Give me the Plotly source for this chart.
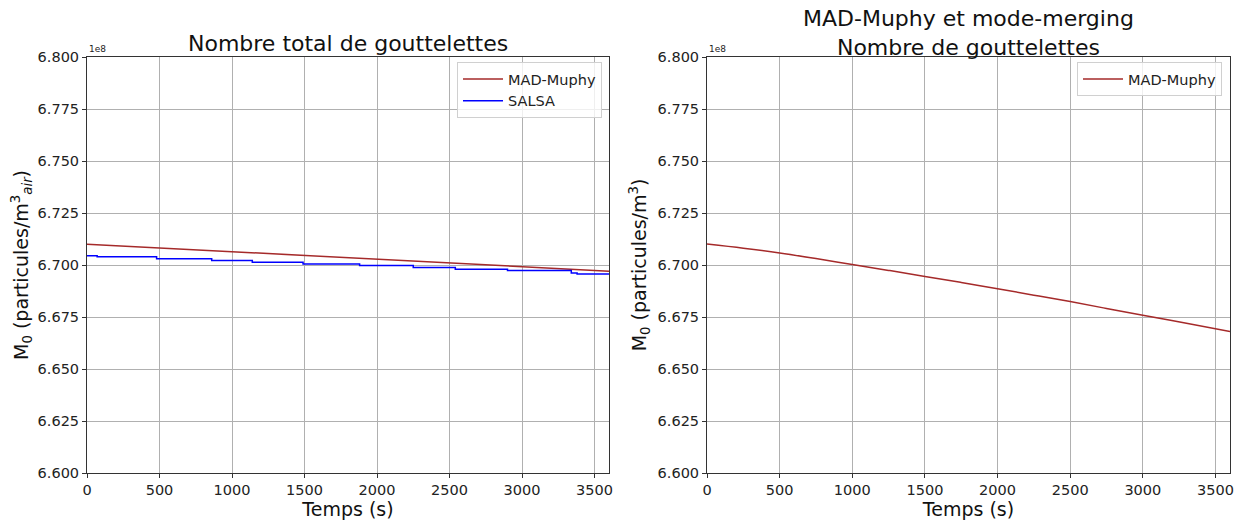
import plotly.graph_objects as go

# Time axis (s) and values in units of 1e8 particles/m3
mad_t = [0, 3600]
mad_left = [6.7100, 6.6970]

salsa_t = [0, 70, 480, 860, 1140, 1490, 1880, 2250, 2540, 2900, 3340, 3380, 3600]
salsa_v = [6.7045, 6.7040, 6.7030, 6.7022, 6.7013, 6.7005, 6.6997, 6.6988, 6.6979, 6.6973, 6.6962, 6.6957, 6.6957]

mm_t = [0, 250, 500, 750, 1000, 1250, 1500, 1750, 2000, 2250, 2500, 2750, 3000, 3300, 3600]
mm_v = [6.7101, 6.7081, 6.7058, 6.7031, 6.7002, 6.6974, 6.6945, 6.6916, 6.6886, 6.6855, 6.6824, 6.6791, 6.6758, 6.6720, 6.6680]

y_ticks = [6.600, 6.625, 6.650, 6.675, 6.700, 6.725, 6.750, 6.775, 6.800]
x_ticks = [0, 500, 1000, 1500, 2000, 2500, 3000, 3500]

BROWN = "#a52a2a"
BLUE = "#0000ff"
FONT = "DejaVu Sans"

W, H = 1242, 520
OFF = 8  # page body margin compensation


def px_x(p):
    return (p - OFF) / W


def px_y(p):
    return (H - (p - OFF)) / H


fig = go.Figure()
fig.add_trace(go.Scatter(x=mad_t, y=mad_left, mode="lines", name="MAD-Muphy",
                         line=dict(color=BROWN, width=1.5), xaxis="x", yaxis="y", legend="legend"))
fig.add_trace(go.Scatter(x=salsa_t, y=salsa_v, mode="lines", name="SALSA", line_shape="hv",
                         line=dict(color=BLUE, width=1.5), xaxis="x", yaxis="y", legend="legend"))
fig.add_trace(go.Scatter(x=mm_t, y=mm_v, mode="lines", name="MAD-Muphy", line_shape="spline",
                         line=dict(color=BROWN, width=1.5), xaxis="x2", yaxis="y2", legend="legend2"))

xl = [px_x(87), px_x(609)]
xr = [px_x(707), px_x(1230)]
yd = [px_y(473), px_y(57)]

axis_common = dict(showline=True, linecolor="#333", linewidth=1, mirror=True, automargin=False,
                   showgrid=True, gridcolor="#b0b0b0", gridwidth=1, zeroline=False,
                   ticks="outside", ticklen=4, tickcolor="#333",
                   tickfont=dict(family=FONT, size=14.5, color="#222"))

xaxis_common = dict(axis_common, range=[0, 3600], tickvals=x_ticks,
                    title=dict(text="Temps (s)", font=dict(family=FONT, size=19, color="#111"), standoff=0))
yaxis_common = dict(axis_common, range=[6.6, 6.8], tickvals=y_ticks, tickformat=".3f")

fig.update_layout(
    width=W, height=H,
    paper_bgcolor="white", plot_bgcolor="white",
    margin=dict(l=0, r=0, t=0, b=0),
    showlegend=True,
    xaxis=dict(xaxis_common, domain=xl, anchor="y"),
    yaxis=dict(yaxis_common, domain=yd, anchor="x",
               title=dict(text="M<sub>0</sub> (particules/m<sup>3</sup><sub><i>air</i></sub>)",
                          font=dict(family=FONT, size=19, color="#111"), standoff=3)),
    xaxis2=dict(xaxis_common, domain=xr, anchor="y2"),
    yaxis2=dict(yaxis_common, domain=yd, anchor="x2",
                title=dict(text="M<sub>0</sub> (particules/m<sup>3</sup>)",
                           font=dict(family=FONT, size=19, color="#111"), standoff=5)),
    legend=dict(x=px_x(602), y=px_y(62), xanchor="right", yanchor="top",
                bgcolor="rgba(255,255,255,0.8)", bordercolor="#d0d0d0", borderwidth=1,
                font=dict(family=FONT, size=14.5, color="#222"), tracegroupgap=0,
                itemwidth=40),
    legend2=dict(x=px_x(1222), y=px_y(62), xanchor="right", yanchor="top",
                 bgcolor="rgba(255,255,255,0.8)", bordercolor="#d0d0d0", borderwidth=1,
                 font=dict(family=FONT, size=14.5, color="#222"), itemwidth=40),
    annotations=[
        dict(text="Nombre total de gouttelettes", x=(xl[0]+xl[1])/2, y=px_y(44),
             xref="paper", yref="paper", xanchor="center", yanchor="middle", showarrow=False,
             font=dict(family=FONT, size=22, color="#111")),
        dict(text="MAD-Muphy et mode-merging<br>Nombre de gouttelettes", x=(xr[0]+xr[1])/2, y=px_y(33),
             xref="paper", yref="paper", xanchor="center", yanchor="middle", showarrow=False,
             font=dict(family=FONT, size=22, color="#111")),
        dict(text="1e8", x=xl[0], y=yd[1], xref="paper", yref="paper", xanchor="left", yanchor="bottom",
             showarrow=False, font=dict(family=FONT, size=9, color="#222"), yshift=1),
        dict(text="1e8", x=xr[0], y=yd[1], xref="paper", yref="paper", xanchor="left", yanchor="bottom",
             showarrow=False, font=dict(family=FONT, size=9, color="#222"), yshift=1),
    ],
)

fig.write_html("out.html")
